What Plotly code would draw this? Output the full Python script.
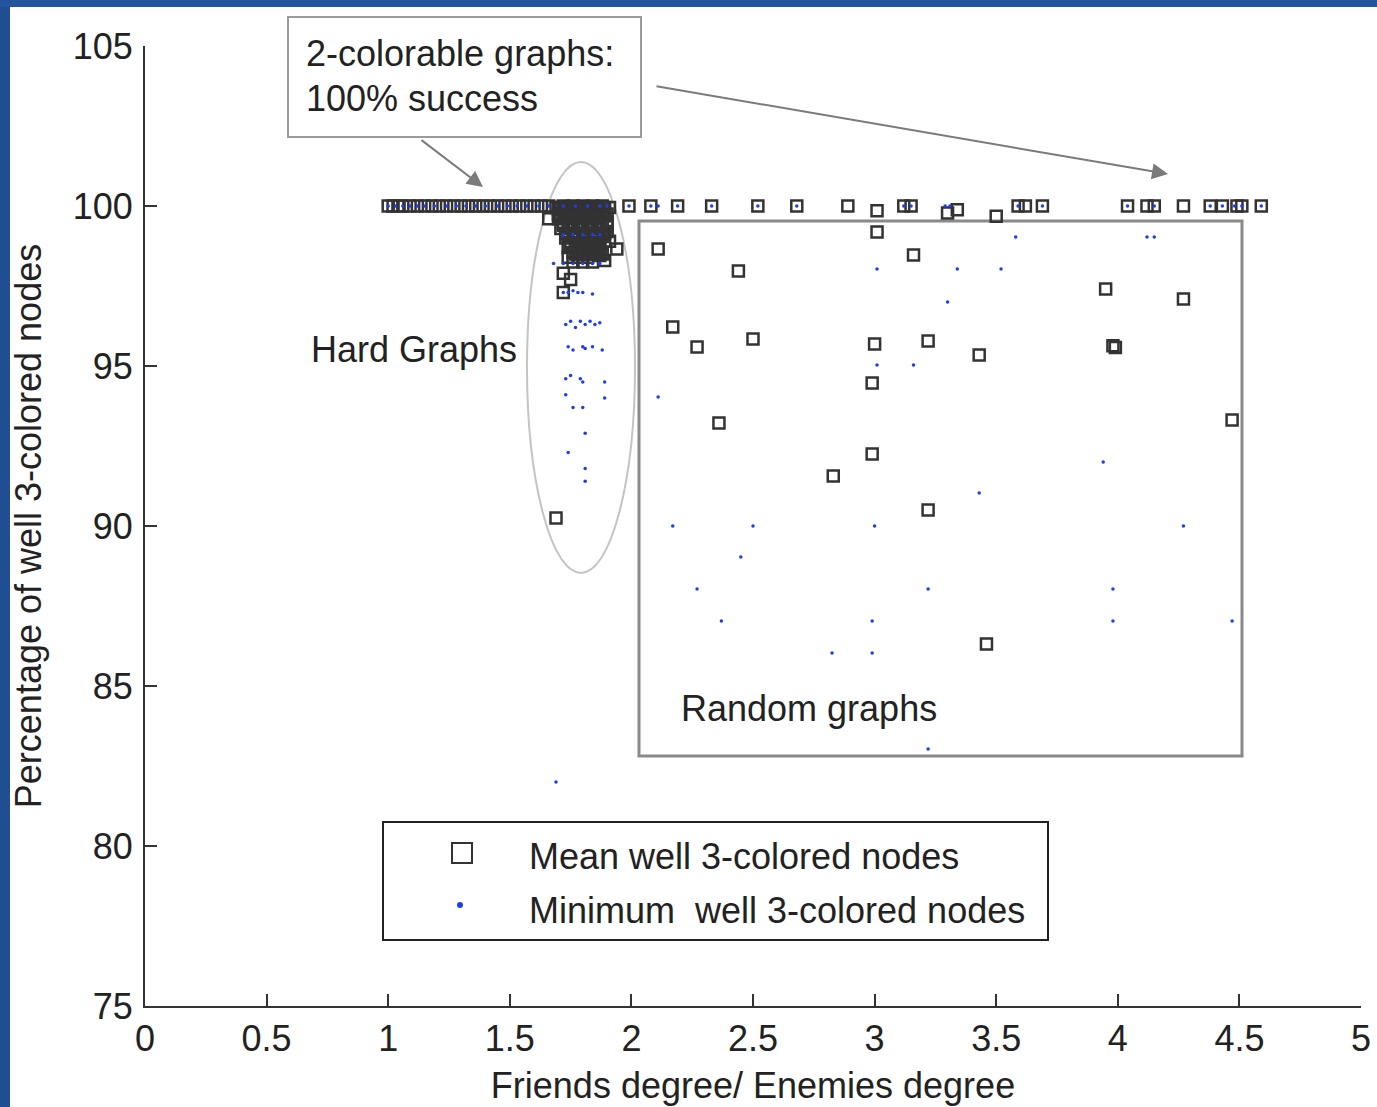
import plotly.graph_objects as go

# ---------------- data ----------------
# 2-colorable graphs: mean = 100 %
two_col_x = [1.00, 1.02, 1.04, 1.06, 1.09, 1.12, 1.15, 1.18, 1.21, 1.24, 1.27, 1.30,
             1.33, 1.36, 1.39, 1.42, 1.45, 1.48, 1.51, 1.54, 1.57, 1.60, 1.63, 1.66,
             1.99, 2.08, 2.19, 2.33, 2.52, 2.68, 2.89, 3.12, 3.15, 3.59, 3.62, 3.69,
             4.04, 4.12, 4.15, 4.27, 4.38, 4.43, 4.49, 4.51, 4.59]
two_col_y = [100.0] * len(two_col_x)

# Hard graphs (mean)
hard_x = [1.72, 1.76, 1.80, 1.84, 1.88,
          1.66, 1.70, 1.74, 1.78, 1.82, 1.86, 1.90,
          1.70, 1.74, 1.78, 1.82, 1.86, 1.90,
          1.71, 1.75, 1.79, 1.83, 1.87, 1.91,
          1.73, 1.77, 1.81, 1.85, 1.89,
          1.74, 1.78, 1.82, 1.86, 1.94,
          1.74, 1.78, 1.82, 1.89,
          1.72, 1.75, 1.72, 1.69]
hard_y = [100.0, 100.0, 100.0, 100.0, 100.0,
          99.6, 99.9, 99.9, 99.9, 99.9, 99.9, 99.5,
          99.6, 99.6, 99.6, 99.6, 99.6, 99.2,
          99.3, 99.3, 99.3, 99.3, 99.3, 98.9,
          99.0, 99.0, 99.0, 99.0, 98.9,
          98.7, 98.7, 98.7, 98.7, 98.66,
          98.4, 98.4, 98.4, 98.3,
          97.9, 97.7, 97.3, 90.25]
# densely overlapping hard-graph means that form the dark blob
hard_blob_x = [1.70, 1.74, 1.78, 1.82, 1.86, 1.90,
               1.72, 1.76, 1.80, 1.84, 1.88,
               1.72, 1.76, 1.80, 1.84, 1.88,
               1.73, 1.77, 1.81, 1.85, 1.89,
               1.75, 1.79, 1.83, 1.87,
               1.76, 1.80, 1.84, 1.88,
               1.76, 1.80, 1.84,
               1.69, 1.71, 1.73, 1.75, 1.77, 1.79, 1.81, 1.83, 1.85, 1.87, 1.89, 1.91,
               1.76, 1.78, 1.80, 1.82, 1.84, 1.86, 1.88,
               1.71, 1.73, 1.75, 1.77, 1.79, 1.81, 1.83, 1.85, 1.87, 1.89,
               1.72, 1.74, 1.76, 1.78, 1.80, 1.82, 1.84, 1.86, 1.88, 1.90,
               1.74, 1.76, 1.78, 1.80, 1.82, 1.84, 1.86, 1.88,
               1.75, 1.77, 1.79, 1.81, 1.83, 1.85, 1.87,
               1.77, 1.79, 1.81, 1.83, 1.85, 1.87]
hard_blob_y = [99.75, 99.75, 99.75, 99.75, 99.75, 99.75,
               99.45, 99.45, 99.45, 99.45, 99.45,
               99.85, 99.85, 99.85, 99.85, 99.85,
               99.15, 99.15, 99.15, 99.15, 99.15,
               98.85, 98.85, 98.85, 98.85,
               98.55, 98.55, 98.55, 98.55,
               98.25, 98.25, 98.25,
               99.95, 99.95, 99.95, 99.95, 99.95, 99.95, 99.95, 99.95, 99.95, 99.95, 99.95, 99.95,
               99.05, 99.05, 98.95, 98.95, 98.8, 98.6, 98.5,
               99.7, 99.7, 99.7, 99.7, 99.7, 99.7, 99.7, 99.7, 99.7, 99.7,
               99.4, 99.4, 99.4, 99.4, 99.4, 99.4, 99.4, 99.4, 99.4, 99.35,
               99.1, 99.1, 99.1, 99.1, 99.1, 99.1, 99.1, 99.05,
               98.8, 98.8, 98.8, 98.8, 98.8, 98.8, 98.75,
               98.5, 98.5, 98.5, 98.5, 98.5, 98.45]

# Random graphs (mean)
rand_x = [3.01, 3.30, 3.34, 3.50,
          2.11, 2.44, 3.01, 3.16, 3.95, 4.27, 2.17, 2.27, 2.50, 3.00, 3.22, 3.43,
          3.98, 3.99, 2.99, 2.36, 4.47, 2.83, 2.99, 3.22, 3.46]
rand_y = [99.85, 99.78, 99.88, 99.68,
          98.66, 97.97, 99.19, 98.47, 97.41, 97.09, 96.22, 95.59, 95.84, 95.69, 95.78, 95.34,
          95.63, 95.58, 94.47, 93.22, 93.31, 91.56, 92.25, 90.50, 86.31]

# Minimum well 3-colored nodes
min_top_x = [1.00, 1.03, 1.06, 1.09, 1.12, 1.15, 1.19, 1.24, 1.28, 1.32, 1.36, 1.40,
             1.45, 1.49, 1.53, 1.57, 1.62, 1.66, 1.72, 1.77, 1.82, 1.87, 1.90,
             1.99, 2.08, 2.11, 2.19, 2.33, 2.52, 2.68, 3.12, 3.15, 3.29, 3.31,
             3.59, 3.69, 4.04, 4.15, 4.38, 4.43, 4.48, 4.51, 4.59]
min_top_y = [100.0] * len(min_top_x)

min_hard_x = [1.72, 1.76, 1.80, 1.84, 1.87,
              1.68, 1.72, 1.76, 1.80, 1.84, 1.87,
              1.72, 1.74, 1.76, 1.78, 1.80, 1.84,
              1.73, 1.75, 1.77, 1.79, 1.81, 1.83, 1.85, 1.87,
              1.74, 1.76, 1.80, 1.81, 1.84, 1.88,
              1.73, 1.75, 1.79, 1.80, 1.89, 1.73, 1.89,
              1.76, 1.80, 1.81, 1.74, 1.81, 1.81, 1.69]
min_hard_y = [99.1, 99.1, 99.1, 99.1, 99.1,
              98.2, 98.2, 98.2, 98.2, 98.2, 98.2,
              97.3, 97.3, 97.35, 97.3, 97.3, 97.25,
              96.3, 96.4, 96.2, 96.4, 96.3, 96.4, 96.3, 96.35,
              95.6, 95.5, 95.6, 95.55, 95.6, 95.5,
              94.6, 94.7, 94.6, 94.5, 94.5, 94.1, 94.0,
              93.7, 93.7, 92.9, 92.3, 91.8, 91.4, 82.0]

min_rand_x = [3.58, 4.12, 4.15, 3.01, 3.34, 3.52, 3.30, 2.11, 3.01, 3.16, 3.94, 3.43,
              2.17, 2.50, 3.00, 4.27, 2.45, 2.27, 3.22, 3.98, 2.37, 2.99, 3.98, 4.47,
              2.825, 2.99, 3.22]
min_rand_y = [99.03, 99.03, 99.03, 98.03, 98.03, 98.03, 97.0, 94.03, 95.03, 95.03, 92.0, 91.03,
              90.0, 90.0, 90.0, 90.0, 89.03, 88.03, 88.03, 88.03, 87.03, 87.03, 87.03, 87.03,
              86.03, 86.03, 83.03]

mean_x = two_col_x + hard_x + hard_blob_x + rand_x
mean_y = two_col_y + hard_y + hard_blob_y + rand_y
min_x = min_top_x + min_hard_x + min_rand_x
min_y = min_top_y + min_hard_y + min_rand_y

x_ticks = [0, 0.5, 1, 1.5, 2, 2.5, 3, 3.5, 4, 4.5, 5]
y_ticks = [75, 80, 85, 90, 95, 100, 105]

# ---------------- figure ----------------
W, H = 1377, 1107
ML, MR, MT, MB = 145, 5, 46, 101
PW, PH = W - ML - MR, H - MT - MB
AXW = 1216.0          # axis length in pixels
FONT = "Liberation Sans, Arial, sans-serif"
TXT = "#222222"
FS = 36
XS = 243.2   # reference pixels per x unit (for placing helpers)


def px(p):   # reference pixel x -> paper x
    return (p - ML) / PW


def py(p):   # reference pixel y -> paper y
    return (H - MB - p) / PH


fig = go.Figure()
fig.add_trace(go.Scatter(
    x=mean_x, y=mean_y, mode="markers", name="Mean well 3-colored nodes",
    marker=dict(symbol="square-open", size=11, color="#333333", line=dict(width=2.5, color="#333333")),
))
fig.add_trace(go.Scatter(
    x=min_x, y=min_y, mode="markers", name="Minimum  well 3-colored nodes",
    marker=dict(symbol="circle", size=3.5, color="#1e3cf0", line=dict(width=0)),
))

shapes = [
    # blue frame of the slide
    dict(type="rect", xref="paper", yref="paper", x0=px(0), x1=px(10), y0=py(H), y1=py(0),
         line=dict(width=0), fillcolor="#1f4e93", layer="above"),
    dict(type="rect", xref="paper", yref="paper", x0=px(0), x1=px(W), y0=py(7), y1=py(0),
         line=dict(width=0), fillcolor="#24559c", layer="above"),
    # hard graphs ellipse
    dict(type="circle", xref="x", yref="y", x0=(527 - ML) / XS, x1=(635 - ML) / XS,
         y0=100 - (574 - 207) / 32, y1=100 - (163 - 207) / 32,
         line=dict(color="#c4c4c4", width=2), layer="below"),
    # random graphs box
    dict(type="rect", xref="x", yref="y", x0=(639 - ML) / XS, x1=(1242 - ML) / XS,
         y0=100 - (757 - 207) / 32, y1=100 - (222 - 207) / 32,
         line=dict(color="#8a8a8a", width=3), layer="below"),
    # 2-colorable text box
    dict(type="rect", xref="paper", yref="paper", x0=px(288), x1=px(641), y0=py(137), y1=py(17),
         line=dict(color="#9a9a9a", width=2), fillcolor="white", layer="above"),
    # legend box
    dict(type="rect", xref="paper", yref="paper", x0=px(383), x1=px(1048), y0=py(940), y1=py(822),
         line=dict(color="#222222", width=2), fillcolor="white", layer="above"),
    # legend symbols
    dict(type="rect", xref="paper", yref="paper", x0=px(452), x1=px(472), y0=py(863), y1=py(843),
         line=dict(color="#333333", width=2), fillcolor="white", layer="above"),
    dict(type="circle", xref="paper", yref="paper", x0=px(457), x1=px(463), y0=py(908), y1=py(902),
         line=dict(width=0), fillcolor="#1e3cf0", layer="above"),
]


def label(xp, yp, text):
    return dict(xref="paper", yref="paper", x=px(xp), y=py(yp), text=text,
                xanchor="left", yanchor="middle", showarrow=False,
                font=dict(size=FS, color=TXT, family=FONT))


annotations = [
    label(304, 53, "2-colorable graphs:"),
    label(304, 98, "100% success"),
    label(309, 349, "Hard Graphs"),
    label(679, 708, "Random graphs"),
    label(527, 856, "Mean well 3-colored nodes"),
    label(527, 910, "Minimum\u00a0 well 3-colored nodes"),
    # arrows
    dict(xref="x", yref="y", x=(483 - ML) / XS, y=100 - (188 - 207) / 32, text="",
         showarrow=True, ax=-63, ay=-48, arrowhead=2, arrowsize=1.6, arrowwidth=2, arrowcolor="#7a7a7a"),
    dict(xref="x", yref="y", x=(1168 - ML) / XS, y=100 - (175 - 207) / 32, text="",
         showarrow=True, ax=-513, ay=-88, arrowhead=2, arrowsize=1.6, arrowwidth=2, arrowcolor="#7a7a7a"),
]

fig.update_layout(
    width=W, height=H, autosize=False,
    margin=dict(l=ML, r=MR, t=MT, b=MB, pad=0, autoexpand=False),
    paper_bgcolor="white", plot_bgcolor="white",
    showlegend=False,
    font=dict(family=FONT, color=TXT, size=FS),
    shapes=shapes, annotations=annotations,
)
fig.update_xaxes(
    range=[0, 5], tickvals=x_ticks, ticktext=[f"{v:g}" for v in x_ticks],
    domain=[0, AXW / PW], automargin=False,
    showgrid=False, zeroline=False, showline=True, linecolor="#333333", linewidth=2,
    ticks="inside", ticklen=12, tickwidth=2, tickcolor="#333333",
    tickfont=dict(size=FS, color=TXT, family=FONT), ticklabelstandoff=0,
    title=dict(text="Friends degree/ Enemies degree", font=dict(size=FS, color=TXT, family=FONT), standoff=15),
)
fig.update_yaxes(
    range=[75, 105], tickvals=y_ticks, ticktext=[str(v) for v in y_ticks], automargin=False,
    showgrid=False, zeroline=False, showline=True, linecolor="#333333", linewidth=2,
    ticks="inside", ticklen=12, tickwidth=2, tickcolor="#333333",
    tickfont=dict(size=FS, color=TXT, family=FONT), ticklabelstandoff=3,
    title=dict(text="Percentage of well 3-colored nodes", font=dict(size=FS, color=TXT, family=FONT), standoff=20),
)

fig.write_html("out.html")
